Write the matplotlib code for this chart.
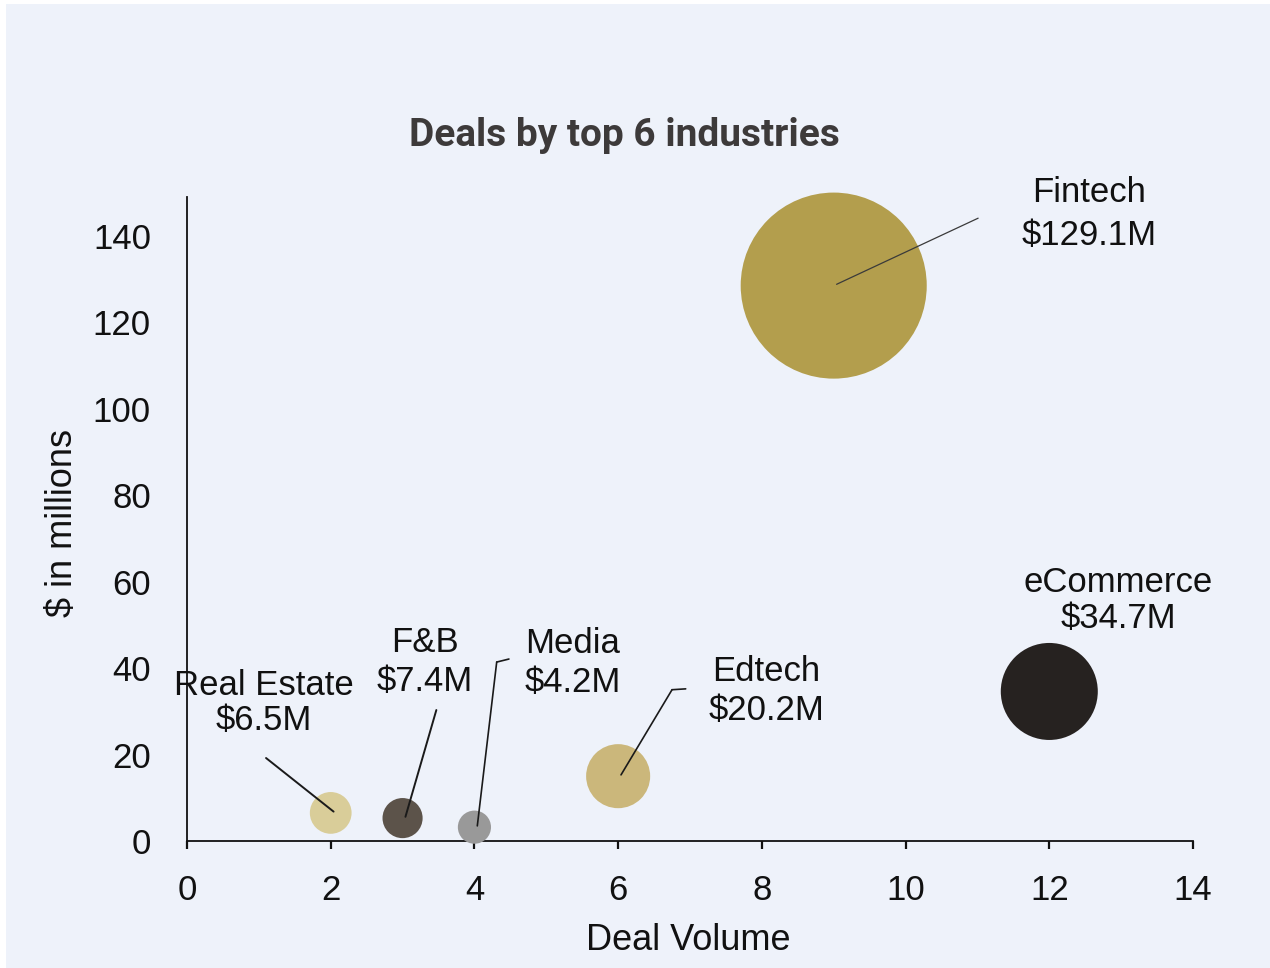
import matplotlib
matplotlib.use("Agg")
import matplotlib.pyplot as plt
from matplotlib.patches import Rectangle

plt.rcParams['font.family'] = ['Liberation Sans', 'DejaVu Sans']

# ---- data ----
industries = ["Real Estate", "F&B", "Media", "Edtech", "Fintech", "eCommerce"]
amount_labels = ["$6.5M", "$7.4M", "$4.2M", "$20.2M", "$129.1M", "$34.7M"]
deal_volume = [2, 3, 4, 6, 9, 12]
amount_y = [6.5, 5.3, 3.2, 15.0, 128.5, 34.6]
bubble_size = [6.5, 6.0, 4.1, 15.3, 129.1, 35.1]
colors = ["#D9CD99", "#5C534A", "#999999", "#CBB77B", "#B39E4D", "#262220"]

x_ticks = [0, 2, 4, 6, 8, 10, 12, 14]
y_ticks = [0, 20, 40, 60, 80, 100, 120, 140]

# label layout (data coords): text centre, leader-line end, optional elbow end
label_pos = [(1.07, 31.9), (3.31, 41.4), (5.37, 41.2), (8.06, 34.7), (12.55, 145.0), (12.96, 55.6)]
line_end = [(1.10, 19.2), (3.47, 30.3), (4.31, 41.4), (6.75, 35.0), (11.01, 144.1), None]
elbow_end = [None, None, (4.48, 42.1), (6.94, 35.2), None, None]
line_spacing = [1.05, 1.2, 1.25, 1.2, 1.4, 1.1]
line_widths = [1.4, 1.4, 1.2, 1.2, 0.9, 1.0]
line_colors = ["#1a1a1a", "#1a1a1a", "#1a1a1a", "#1a1a1a", "#3a3a3a", "#1a1a1a"]

BG = "#EEF2FA"

fig = plt.figure(figsize=(12.7, 9.68), dpi=100)
fig.patch.set_facecolor("white")
fig.patches.append(Rectangle((6 / 1270, 0), 1 - 6 / 1270, 1 - 4 / 968,
                             transform=fig.transFigure, facecolor=BG,
                             edgecolor="none", zorder=-10))

ax = fig.add_axes([187 / 1270, 1 - 841 / 968, (1193 - 187) / 1270, (841 - 197) / 968])
ax.set_facecolor(BG)
ax.patch.set_alpha(0)

ax.scatter(deal_volume, amount_y, s=[v * 139 for v in bubble_size], c=colors,
           edgecolors="none", zorder=3, clip_on=False)

for i in range(len(industries)):
    if line_end[i] is not None:
        ax.annotate("", xy=(deal_volume[i] + 0.04, amount_y[i] + 0.3), xytext=line_end[i],
                    arrowprops=dict(arrowstyle="-", color=line_colors[i],
                                    lw=line_widths[i], shrinkA=0, shrinkB=0),
                    zorder=4, annotation_clip=False)
    if elbow_end[i] is not None:
        ax.annotate("", xy=line_end[i], xytext=elbow_end[i],
                    arrowprops=dict(arrowstyle="-", color=line_colors[i],
                                    lw=line_widths[i], shrinkA=0, shrinkB=0),
                    zorder=4, annotation_clip=False)
    ax.text(label_pos[i][0], label_pos[i][1], industries[i] + "\n" + amount_labels[i],
            ha="center", va="center", fontsize=25, color="#111111",
            linespacing=line_spacing[i], zorder=5, clip_on=False)

ax.set_xlim(0, 14)
ax.set_ylim(0, 149)
ax.set_xticks(x_ticks)
ax.set_yticks(y_ticks)
ax.tick_params(axis="x", direction="out", length=6, width=1.6, pad=18,
               labelsize=25, colors="#111111")
ax.tick_params(axis="y", length=0, pad=26, labelsize=25, colors="#111111")

for side in ["top", "right"]:
    ax.spines[side].set_visible(False)
for side in ["left", "bottom"]:
    ax.spines[side].set_linewidth(1.3)
    ax.spines[side].set_color("#111111")

fig.text(624 / 1270, 1 - 135 / 968, "Deals by top 6 industries", ha="center", va="center",
         fontsize=28, fontweight="bold", color="#3d3a3a", family=["Roboto", "DejaVu Sans"])
fig.text(688 / 1270, 1 - 940 / 968, "Deal Volume", ha="center", va="center",
         fontsize=26, color="#111111")
fig.text(63 / 1270, 1 - 523 / 968, "$ in millions", ha="center", va="center",
         rotation=90, fontsize=26, color="#111111")

fig.savefig("out.png", dpi=100, facecolor=fig.get_facecolor())
